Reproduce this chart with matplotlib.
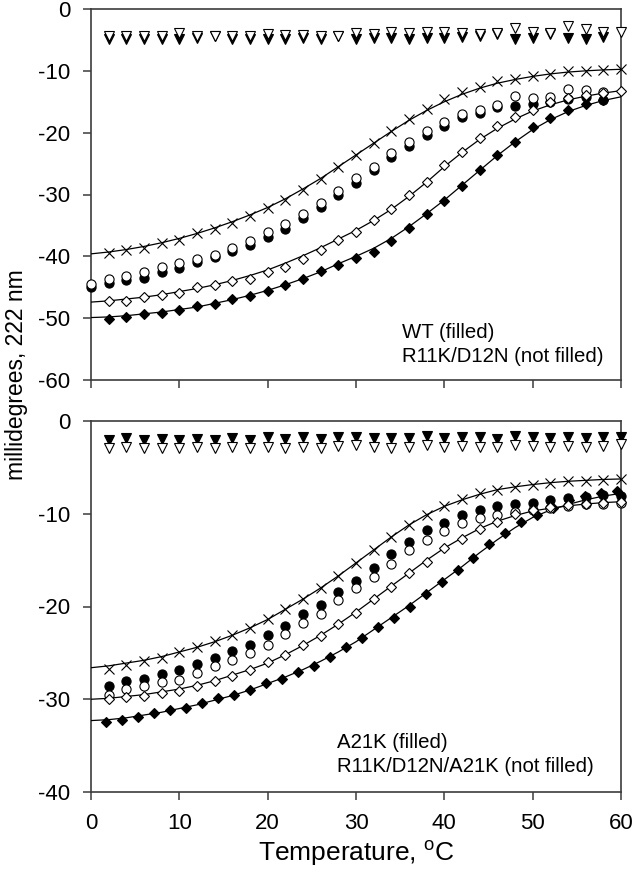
import matplotlib.pyplot as plt

plt.rcParams["font.family"] = ["Liberation Sans", "DejaVu Sans"]
plt.rcParams["mathtext.fontset"] = "custom"
plt.rcParams["mathtext.rm"] = "Liberation Sans"
plt.rcParams["axes.unicode_minus"] = False

# -----------------------------------
# Data
# -----------------------------------

# temperatures every 2 degrees, 0..60
T = [0, 2, 4, 6, 8, 10, 12, 14, 16, 18, 20, 22, 24, 26, 28, 30,
     32, 34, 36, 38, 40, 42, 44, 46, 48, 50, 52, 54, 56, 58, 60]

# --- top panel: WT (filled) / R11K/D12N (not filled) ---
top_tri_filled = [-4.9, -4.85, -4.85, -4.8, -4.9, -4.75, -4.4, -4.8, -4.85, -4.8,
                  -4.8, -4.75, -4.85, -4.4, -4.85, -4.75, -4.75, -4.85, -4.75, -4.75,
                  -4.6, -4.4, -4.1, -4.9, -4.75, -4.1, -4.75, -4.9, -4.6]          # 2..58
top_tri_open = [-4.4, -4.3, -4.4, -4.4, -3.9, -4.4, -4.4, -4.3, -4.4, -4.0,
                -4.2, -4.2, -4.3, -4.4, -3.9, -4.0, -3.8, -3.9, -3.8, -3.8,
                -3.9, -4.0, -3.9, -3.0, -3.8, -3.9, -2.75, -3.3, -3.8, -3.7]       # 2..60

top_cross = [-39.4, -39.0, -38.6, -37.9, -37.3, -36.3, -35.6, -34.6, -33.5, -32.2,
             -30.9, -29.2, -27.5, -25.5, -23.6, -21.7, -19.8, -17.8, -16.2, -14.6,
             -13.4, -12.6, -11.6, -11.3, -10.8, -10.5, -10.1, -10.0, -9.9, -9.75]  # 2..60
top_cross_fit = [-39.6, -39.3, -38.9, -38.4, -37.8, -37.1, -36.3, -35.4, -34.4, -33.3,
                 -32.1, -30.7, -29.1, -27.4, -25.5, -23.6, -21.7, -19.8, -18.0, -16.4,
                 -15.0, -13.8, -12.8, -12.0, -11.4, -10.9, -10.5, -10.2, -10.0, -9.85,
                 -9.75]                                                              # 0..60

top_circ_open = [-44.5, -43.7, -43.1, -42.6, -41.8, -41.1, -40.4, -39.8, -38.7, -37.5,
                 -36.0, -34.7, -33.1, -31.3, -29.4, -27.4, -25.5, -23.3, -21.5, -19.7,
                 -18.2, -17.0, -16.3, -15.5, -14.1, -14.4, -14.2, -13.0, -13.1, -13.4]  # 0..58
top_circ_filled = [-45.0, -44.3, -43.8, -43.5, -42.6, -41.9, -40.9, -40.1, -39.1, -38.2,
                   -36.8, -35.5, -33.8, -32.0, -30.1, -28.2, -26.0, -23.9, -22.1, -20.4,
                   -18.9, -17.5, -16.9, -15.9, -15.7, -15.3, -15.0, -14.6, -14.3, -14.7]  # 0..58

top_dia_open = [-47.3, -47.2, -46.6, -46.3, -46.0, -45.0, -44.7, -44.0, -43.7, -42.6,
                -41.8, -40.4, -38.9, -37.4, -36.0, -34.2, -32.4, -30.1, -27.9, -25.3,
                -23.1, -20.9, -19.0, -17.4, -16.3, -15.0, -14.4, -13.9, -13.6, -13.2]   # 2..60
top_dia_open_fit = [-47.4, -47.2, -46.9, -46.6, -46.2, -45.7, -45.2, -44.6, -43.9, -43.1,
                    -42.2, -41.1, -39.9, -38.6, -37.2, -35.8, -34.2, -32.4, -30.3, -28.0,
                    -25.5, -23.2, -21.1, -19.3, -17.8, -16.5, -15.5, -14.7, -14.1, -13.6,
                    -13.2]                                                           # 0..60
top_dia_filled = [-50.2, -49.8, -49.4, -49.1, -48.7, -48.0, -47.7, -46.9, -46.4, -45.6,
                  -44.6, -43.6, -42.3, -41.4, -40.2, -39.3, -37.6, -35.4, -33.2, -31.0,
                  -28.6, -26.0, -23.6, -21.5, -19.1, -17.7, -16.3, -15.4, -14.7]     # 2..58
top_dia_filled_fit = [-49.9, -49.8, -49.6, -49.3, -49.0, -48.6, -48.2, -47.6, -47.0, -46.3,
                      -45.5, -44.6, -43.6, -42.5, -41.2, -40.0, -38.7, -37.1, -35.2, -33.1,
                      -30.9, -28.5, -26.1, -23.7, -21.5, -19.5, -17.9, -16.6, -15.6, -14.8,
                      -14.2]                                                         # 0..60

# --- bottom panel: A21K (filled) / R11K/D12N/A21K (not filled) ---
bot_tri_filled = [-2.05, -1.87, -2.05, -1.94, -2.05, -1.94, -2.05, -1.87, -2.05, -1.76,
                  -1.98, -1.69, -1.98, -1.76, -1.76, -1.87, -1.87, -1.87, -1.62, -1.8,
                  -1.69, -1.76, -1.98, -1.62, -1.76, -1.87, -1.76, -1.87, -1.76, -1.69]  # 2..60
bot_tri_open = [-2.95, -2.77, -2.88, -2.88, -2.95, -2.77, -2.88, -2.77, -2.88, -2.77,
                -2.88, -2.77, -2.88, -2.7, -2.59, -2.77, -2.88, -2.77, -2.59, -2.77,
                -2.7, -2.77, -2.77, -2.59, -2.7, -2.77, -2.7, -2.77, -2.7, -2.52]       # 2..60

bot_cross = [-26.7, -26.3, -25.9, -25.5, -24.9, -24.4, -23.7, -23.1, -22.3, -21.4,
             -20.3, -19.2, -18.0, -16.7, -15.3, -13.9, -12.5, -11.2, -10.1, -9.2,
             -8.45, -7.8, -7.4, -7.1, -6.9, -6.7, -6.5, -6.45, -6.4, -6.25]         # 2..60
bot_cross_fit = [-26.6, -26.4, -26.1, -25.8, -25.4, -24.9, -24.4, -23.8, -23.1, -22.3,
                 -21.4, -20.3, -19.2, -18.0, -16.7, -15.3, -13.9, -12.5, -11.2, -10.1,
                 -9.2, -8.5, -7.9, -7.4, -7.1, -6.85, -6.65, -6.5, -6.4, -6.3,
                 -6.25]                                                              # 0..60

bot_circ_filled = [-28.6, -28.0, -27.8, -27.3, -26.9, -26.2, -25.6, -24.8, -24.2, -23.1,
                   -22.1, -20.8, -19.8, -18.4, -17.2, -15.8, -14.3, -13.0, -11.8, -11.0,
                   -10.1, -9.6, -9.2, -8.9, -8.8, -8.5, -8.3, -8.2, -8.0, -8.1]      # 2..60
bot_circ_open = [-29.5, -28.9, -28.6, -28.1, -27.9, -27.2, -26.4, -25.8, -25.0, -24.2,
                 -23.0, -21.8, -20.8, -19.3, -18.0, -16.8, -15.4, -13.9, -12.8, -11.9,
                 -11.0, -10.5, -10.1, -9.8, -9.6, -9.35, -9.2, -9.0, -8.9, -8.8]     # 2..60

bot_dia_open = [-30.0, -29.8, -29.6, -29.3, -29.1, -28.6, -28.0, -27.5, -26.9, -26.0,
                -25.2, -24.2, -23.2, -21.9, -20.7, -19.2, -17.9, -16.4, -15.2, -13.7,
                -12.7, -11.6, -10.9, -10.0, -9.6, -9.3, -9.1, -8.95, -8.8, -8.7]     # 2..60
bot_dia_open_fit = [-30.0, -29.9, -29.7, -29.5, -29.2, -28.9, -28.5, -28.0, -27.4, -26.8,
                    -26.1, -25.2, -24.2, -23.1, -21.9, -20.6, -19.2, -17.8, -16.4, -15.0,
                    -13.7, -12.6, -11.6, -10.8, -10.2, -9.7, -9.4, -9.15, -8.95, -8.8,
                    -8.7]                                                            # 0..60

# filled diamonds in the lower panel were taken on their own temperature grid
bot_dia_filled_T = [1.7, 3.5, 5.3, 7.1, 8.9, 10.8, 12.6, 14.4, 16.2, 18.0, 19.8,
                    21.6, 23.4, 25.3, 27.1, 28.9, 30.7, 32.5, 34.3, 36.1, 37.9, 39.7,
                    41.5, 43.3, 45.1, 46.9, 48.7, 50.5, 52.3, 54.1, 55.9, 57.7, 59.5]
bot_dia_filled = [-32.5, -32.2, -31.9, -31.5, -31.2, -30.9, -30.4, -29.9, -29.5, -29.0, -28.3,
                  -27.8, -27.1, -26.4, -25.4, -24.4, -23.4, -22.2, -21.2, -20.0, -18.7, -17.4,
                  -16.1, -14.8, -13.3, -12.1, -10.9, -10.1, -9.4, -8.5, -8.1, -7.8, -7.6]
bot_dia_filled_fit = [-32.3, -32.2, -32.0, -31.7, -31.4, -31.0, -30.6, -30.1, -29.6, -29.0,
                      -28.3, -27.6, -26.8, -25.9, -24.9, -23.8, -22.5, -21.2, -19.9, -18.5,
                      -17.1, -15.7, -14.2, -12.8, -11.5, -10.4, -9.6, -9.0, -8.5, -8.1,
                      -7.8]                                                          # 0..60

# -----------------------------------
# Figure Setup
# -----------------------------------

fig = plt.figure(figsize=(6.33, 8.76), dpi=100)

ax_top = fig.add_axes([91 / 633, 1 - 380 / 876, 530 / 633, 371 / 876])
ax_bot = fig.add_axes([91 / 633, 1 - 792 / 876, 530 / 633, 371 / 876])

SPINE = "#3c3c3c"


def style(ax, ylo):
    ax.set_xlim(0, 60)
    ax.set_ylim(ylo, 0)
    ax.set_xticks(range(0, 61, 10))
    ax.set_yticks(range(ylo, 1, 10))
    for s in ax.spines.values():
        s.set_color(SPINE)
        s.set_linewidth(1.2)
    ax.tick_params(direction="out", length=6, width=1.1, color=SPINE,
                   labelsize=16, pad=9)


def points(ax, x, y, marker, filled, ms):
    ax.plot(x, y, linestyle="none", marker=marker, markersize=ms,
            markerfacecolor="black" if filled else "white",
            markeredgecolor="black", markeredgewidth=0.8,
            clip_on=False, zorder=4 if filled else 5)


def fit(ax, y):
    ax.plot(T, y, color="black", linewidth=0.9, zorder=3)


style(ax_top, -60)
style(ax_bot, -40)
ax_top.tick_params(labelbottom=False)

# -----------------------------------
# Top panel
# -----------------------------------

fit(ax_top, top_cross_fit)
fit(ax_top, top_dia_open_fit)
fit(ax_top, top_dia_filled_fit)

points(ax_top, T[1:30], top_tri_filled, "v", True, 7)
points(ax_top, T[1:], top_tri_open, "v", False, 7)
points(ax_top, T[1:], top_cross, "x", True, 6.5)
points(ax_top, T[:30], top_circ_filled, "o", True, 6.6)
points(ax_top, T[:30], top_circ_open, "o", False, 6.6)
points(ax_top, T[1:30], top_dia_filled, "D", True, 5.2)
points(ax_top, T[1:], top_dia_open, "D", False, 5.2)

ax_top.text(0.586, 0.113, "WT (filled)", transform=ax_top.transAxes,
            fontsize=14.7, va="baseline")
ax_top.text(0.586, 0.048, "R11K/D12N (not filled)", transform=ax_top.transAxes,
            fontsize=14.7, va="baseline")

# -----------------------------------
# Bottom panel
# -----------------------------------

fit(ax_bot, bot_cross_fit)
fit(ax_bot, bot_dia_open_fit)
fit(ax_bot, bot_dia_filled_fit)

points(ax_bot, T[1:], bot_tri_open, "v", False, 7)
points(ax_bot, T[1:], bot_tri_filled, "v", True, 7)
points(ax_bot, T[1:], bot_cross, "x", True, 6.5)
points(ax_bot, T[1:], bot_circ_filled, "o", True, 6.6)
points(ax_bot, T[1:], bot_circ_open, "o", False, 6.6)
points(ax_bot, bot_dia_filled_T, bot_dia_filled, "D", True, 5.2)
points(ax_bot, T[1:], bot_dia_open, "D", False, 5.2)

ax_bot.text(0.465, 0.118, "A21K (filled)", transform=ax_bot.transAxes,
            fontsize=14.7, va="baseline")
ax_bot.text(0.465, 0.055, "R11K/D12N/A21K (not filled)", transform=ax_bot.transAxes,
            fontsize=14.7, va="baseline")

# -----------------------------------
# Shared labels
# -----------------------------------

fig.text(17 / 633, 1 - 375 / 876, "millidegrees, 222 nm", rotation=90,
         ha="center", va="center", fontsize=16.5)
fig.text(356 / 633, 1 - 853 / 876, r"Temperature, $^{\mathrm{o}}$C",
         ha="center", va="center", fontsize=19)

fig.savefig("out.png", dpi=100)
